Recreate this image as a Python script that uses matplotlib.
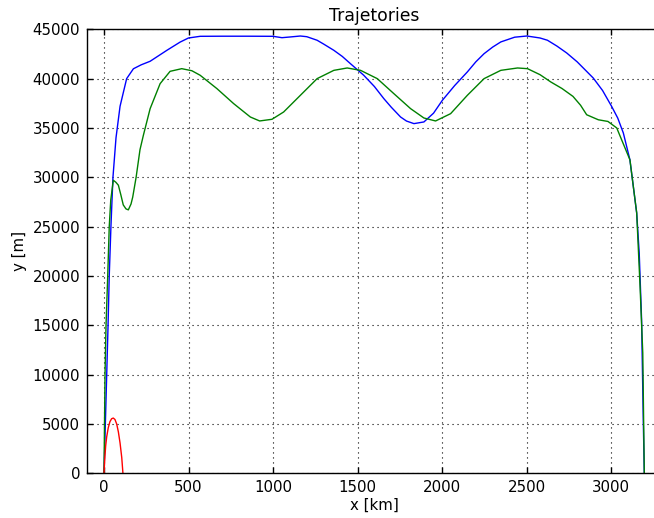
import matplotlib
matplotlib.use("Agg")
import matplotlib.pyplot as plt

# Blue trajectory (x in km, y in m)
blue_x = [0, 8, 16, 24, 31, 41, 53, 71, 95, 134, 174, 220, 273, 372, 450, 500, 569, 700, 850,
          1000, 1053, 1100, 1162, 1200, 1261, 1300, 1360, 1410, 1458, 1537, 1600, 1656, 1700,
          1755, 1790, 1834, 1893, 1950, 2002, 2075, 2150, 2200, 2249, 2300, 2348, 2430, 2502,
          2580, 2624, 2680, 2738, 2800, 2895, 2950, 3004, 3040, 3073, 3112, 3152, 3167, 3181,
          3191, 3197]
blue_y = [0, 5000, 10000, 15000, 20000, 25000, 30000, 34000, 37200, 40000, 41000, 41400, 41760,
          42870, 43700, 44120, 44290, 44300, 44300, 44290, 44150, 44220, 44320, 44250, 43890,
          43500, 42870, 42250, 41520, 40340, 39200, 37970, 37100, 36110, 35700, 35440, 35610,
          36500, 37800, 39300, 40680, 41700, 42530, 43200, 43720, 44200, 44320, 44120, 43890,
          43300, 42600, 41700, 40060, 38800, 37180, 36000, 34490, 31770, 26370, 22310, 15550,
          5400, 0]

# Green trajectory
green_x = [0, 3, 6, 12, 22, 31, 40, 55, 70, 85, 100, 114, 130, 144, 160, 170, 190, 213, 233,
           273, 332, 391, 460, 520, 569, 668, 767, 866, 921, 994, 1063, 1162, 1261, 1360, 1439,
           1518, 1617, 1715, 1814, 1893, 1962, 2051, 2150, 2249, 2348, 2447, 2506, 2580, 2644,
           2710, 2775, 2820, 2856, 2925, 2982, 3034, 3112, 3152, 3172, 3188, 3197]
green_y = [0, 5000, 10000, 15000, 20000, 25000, 27700, 29700, 29500, 29200, 28200, 27200, 26800,
           26700, 27300, 28000, 30000, 32800, 34260, 36960, 39490, 40740, 41010, 40800, 40340,
           38990, 37470, 36110, 35710, 35880, 36620, 38310, 40000, 40840, 41080, 40840, 40000,
           38480, 36960, 36010, 35710, 36450, 38310, 40000, 40840, 41080, 41010, 40400, 39660,
           39000, 38200, 37300, 36340, 35830, 35660, 35000, 31770, 26400, 18930, 12200, 0]

# Red trajectory
red_x = [0, 5, 10, 16, 25, 35, 45, 55, 65, 75, 85, 95, 105, 112]
red_y = [0, 1600, 2800, 3700, 4600, 5230, 5530, 5600, 5450, 5000, 4200, 3070, 1600, 0]

x_ticks = [0, 500, 1000, 1500, 2000, 2500, 3000]
y_ticks = [0, 5000, 10000, 15000, 20000, 25000, 30000, 35000, 40000, 45000]

W, H = 654, 518
fig = plt.figure(figsize=(W / 100, H / 100), dpi=100, facecolor="white")
left, right, top, bottom = 87.1, 661.7, 29.3, 473.3
ax = fig.add_axes([left / W, 1 - bottom / H, (right - left) / W, (bottom - top) / H])

ax.plot(blue_x, blue_y, color="blue", lw=1.0)
ax.plot(green_x, green_y, color="green", lw=1.0)
ax.plot(red_x, red_y, color="red", lw=1.0)

ax.set_xlim(-100, 3300)
ax.set_ylim(0, 45000)
ax.set_xticks(x_ticks)
ax.set_yticks(y_ticks)

ax.grid(True, color="black", linewidth=0.8, dashes=(1, 3.5))
ax.tick_params(direction="in", length=4, width=1.0, top=True, right=True,
               labelsize=10.8, pad=5)
for s in ax.spines.values():
    s.set_linewidth(1.0)

ax.set_title("Trajetories", fontsize=12.4, pad=6)
ax.set_xlabel("x [km]", fontsize=10.8, labelpad=2)
ax.set_ylabel("y [m]", fontsize=10.8, labelpad=4)

fig.savefig("out.png", dpi=100, facecolor="white")
